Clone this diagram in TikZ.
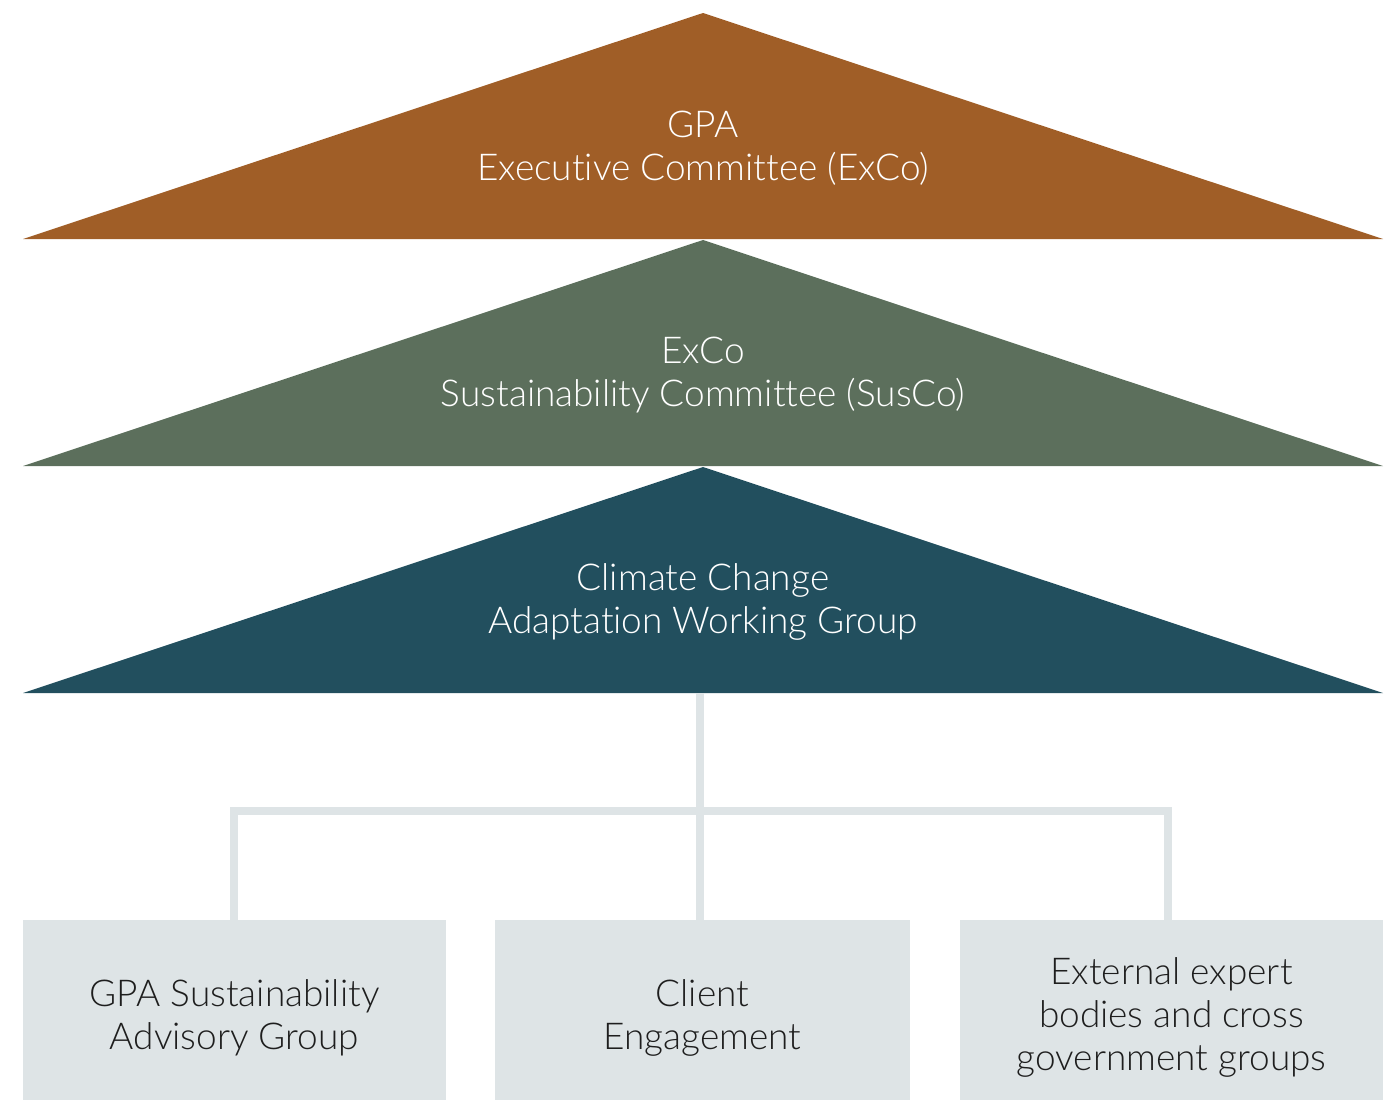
\documentclass[tikz,border=0pt]{standalone}
\usepackage{fontspec}
\setmainfont{Lato Light}[Ligatures={NoCommon}]
\begin{document}
\begin{tikzpicture}[x=1pt,y=-1pt,
  tierA/.style={fill=exco},
  tierB/.style={fill=susco},
  tierC/.style={fill=ccawg},
  tiertext/.style={text=white,align=center,font=\fontsize{37}{43}\selectfont},
  leafbox/.style={fill=leaf,draw=none,minimum height=180pt,anchor=north},
  leaftext/.style={align=center,text=ink,font=\fontsize{37}{43}\selectfont},
  link/.style={draw=leaf,line width=8pt,line join=miter}]
\definecolor{exco}{HTML}{A05E27}
\definecolor{susco}{HTML}{5C6F5C}
\definecolor{ccawg}{HTML}{224F5E}
\definecolor{leaf}{HTML}{DEE4E6}
\definecolor{ink}{HTML}{1E1E1E}
\useasboundingbox (0,0) rectangle (1395,1100);

% three stacked governance tiers
\path[tierA] (703,13) -- (1383,239) -- (23,239) -- cycle;
\path[tierB] (703,240) -- (1383,466) -- (23,466) -- cycle;
\path[tierC] (703,467) -- (1383,693) -- (23,693) -- cycle;

\node[tiertext] (exco) at (703,148) {GPA\\Executive Committee (ExCo)};
\node[tiertext] (susco) at (703,375) {ExCo\\Sustainability Committee (SusCo)};
\node[tiertext] (ccawg) at (703,602) {Climate Change\\Adaptation Working Group};

% supporting groups
\node[leafbox,minimum width=423pt] (sag) at (234.5,920) {};
\node[leafbox,minimum width=415pt] (client) at (702.5,920) {};
\node[leafbox,minimum width=423pt] (ext) at (1171.5,920) {};
\node[leaftext] (sagtext) at ([yshift=-7.5pt]sag.center) {GPA Sustainability\\Advisory Group};
\node[leaftext] (clienttext) at ([yshift=-7.5pt]client.center) {Client\\Engagement};
\node[leaftext] (exttext) at ([yshift=-7.5pt]ext.center) {External expert\\bodies and cross\\government groups};

\coordinate (base) at (700,693);
\coordinate (hub) at (700,811);

% connectors
\draw[link] (base) -- (hub) -- (hub |- client.north);
\draw[link] (sag.north -| 234,0) -- (234,811) -- (1168,811) -- (ext.north -| 1168,0);
\end{tikzpicture}
\end{document}
